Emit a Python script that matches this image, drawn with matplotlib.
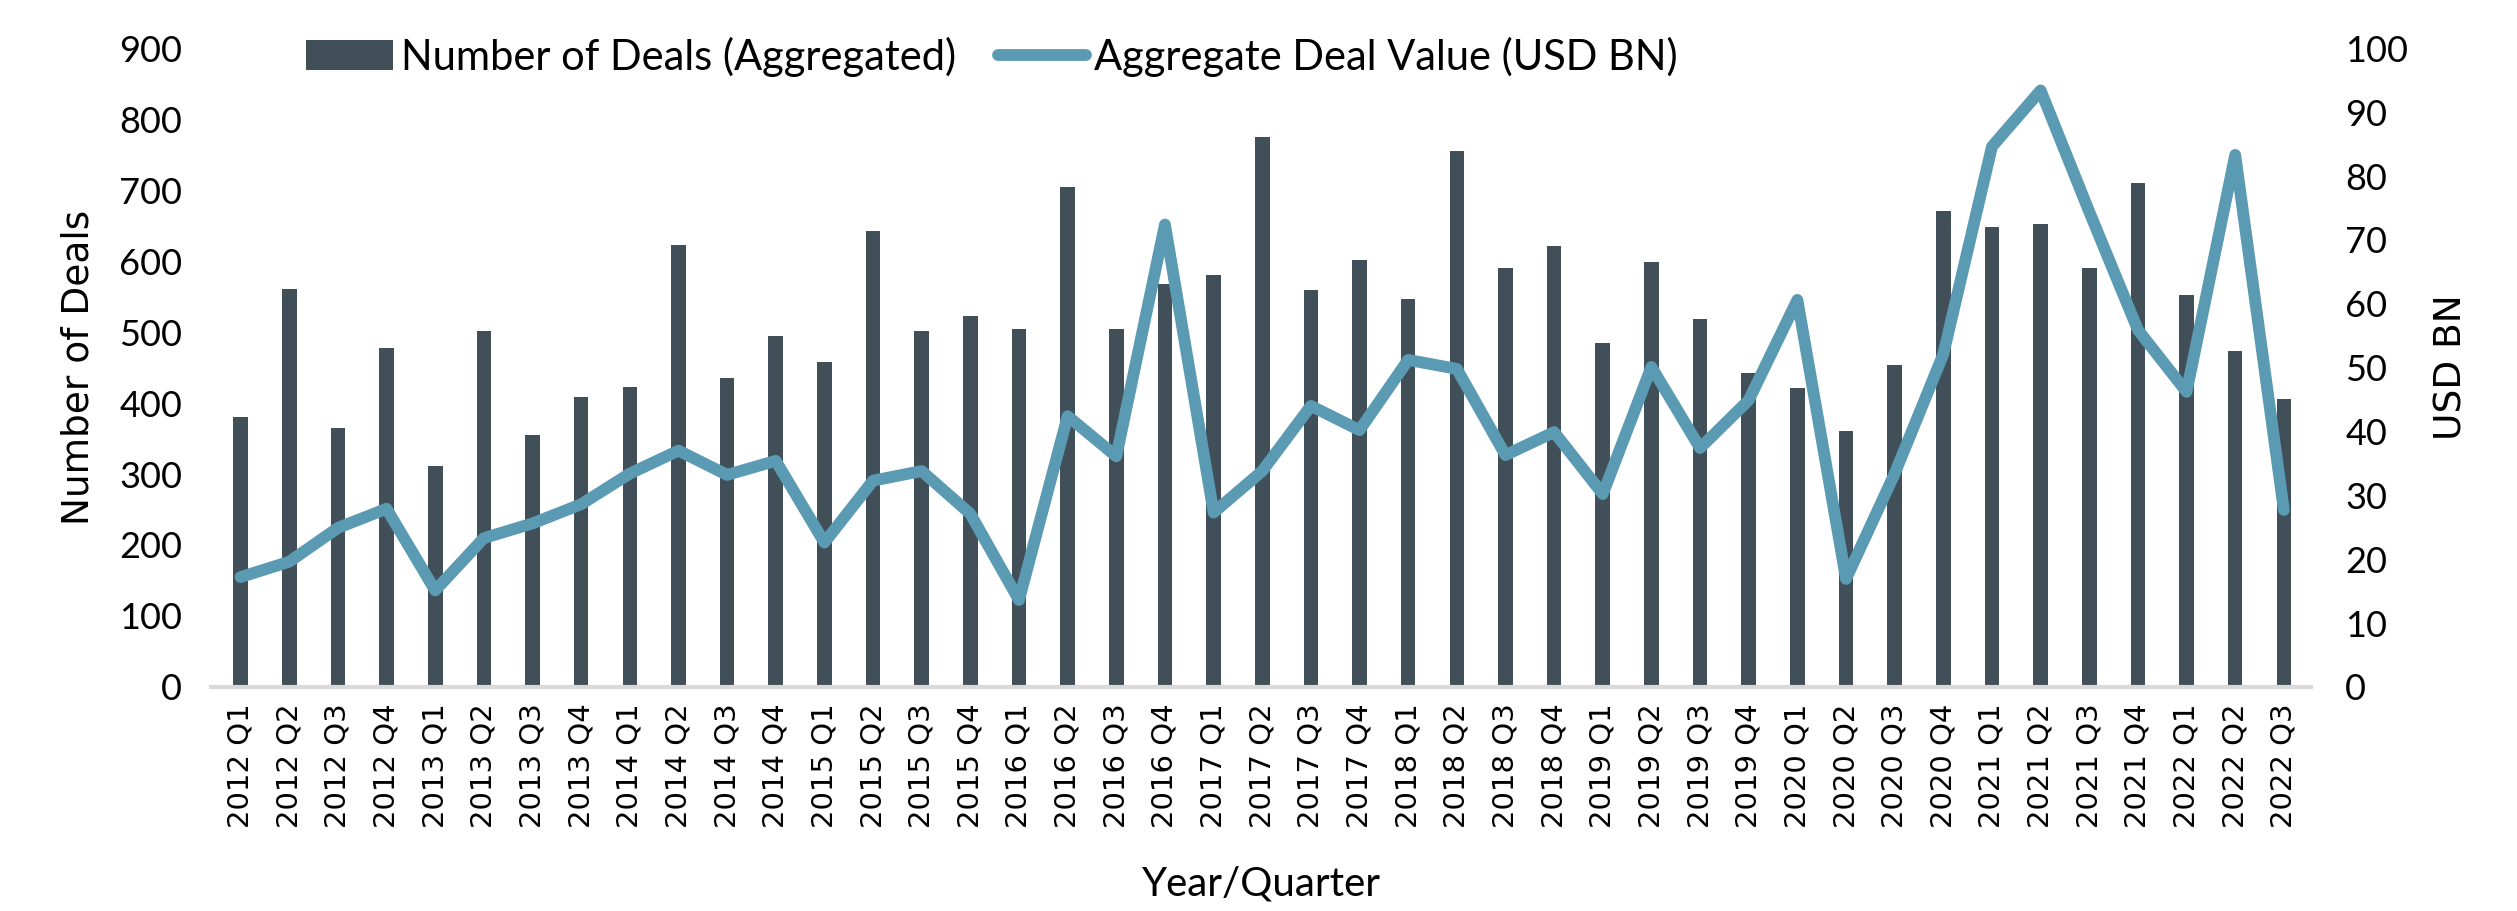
import matplotlib.pyplot as plt
import numpy as np

quarters = ['2012 Q1', '2012 Q2', '2012 Q3', '2012 Q4',
            '2013 Q1', '2013 Q2', '2013 Q3', '2013 Q4',
            '2014 Q1', '2014 Q2', '2014 Q3', '2014 Q4',
            '2015 Q1', '2015 Q2', '2015 Q3', '2015 Q4',
            '2016 Q1', '2016 Q2', '2016 Q3', '2016 Q4',
            '2017 Q1', '2017 Q2', '2017 Q3', '2017 Q4',
            '2018 Q1', '2018 Q2', '2018 Q3', '2018 Q4',
            '2019 Q1', '2019 Q2', '2019 Q3', '2019 Q4',
            '2020 Q1', '2020 Q2', '2020 Q3', '2020 Q4',
            '2021 Q1', '2021 Q2', '2021 Q3', '2021 Q4',
            '2022 Q1', '2022 Q2', '2022 Q3']

deals = [380, 561, 365, 478, 312, 502, 355, 409, 423, 623, 436, 495,
         458, 642, 502, 522, 505, 704, 505, 568, 580, 775, 560, 602,
         547, 755, 591, 622, 484, 599, 519, 443, 421, 361, 453, 671,
         648, 653, 591, 710, 552, 474, 406]

value_bn = [17.2, 19.6, 24.9, 27.9, 15.1, 23.3, 25.6, 28.6, 33.4, 37.0, 33.2, 35.4,
            22.6, 32.3, 33.8, 27.1, 13.6, 42.4, 36.1, 72.4, 27.3, 33.8, 44.0, 40.2,
            51.2, 49.8, 36.3, 39.9, 30.2, 50.1, 37.4, 44.9, 60.6, 16.9, 33.4, 52.1,
            84.6, 93.4, 74.4, 55.9, 46.2, 83.3, 27.7]

bar_color = '#414f59'
line_color = '#5a9ab3'
light_font = 'Lato'

fig = plt.figure(figsize=(25.17, 9.11), dpi=100)
ax = fig.add_axes([0.084, 0.246, 0.834, 0.701])
ax2 = ax.twinx()

x = np.arange(len(quarters))
bars = ax.bar(x, deals, width=0.3, color=bar_color, label='Number of Deals (Aggregated)', zorder=2)
line, = ax2.plot(x, value_bn, color=line_color, linewidth=8.5, solid_joinstyle='round',
                 solid_capstyle='round', label='Aggregate Deal Value (USD BN)', zorder=3)

ax.set_xlim(-0.6, 42.55)
ax.set_ylim(0, 900)
ax.set_yticks(range(0, 901, 100))
ax2.set_ylim(0, 100)
ax2.set_yticks(range(0, 101, 10))

ax.set_xticks(x)
ax.set_xticklabels(quarters, rotation=90, fontsize=21, family='DejaVu Sans')
for lab in ax.get_yticklabels() + ax2.get_yticklabels():
    lab.set_fontsize(26)
    lab.set_family(light_font)

for a in (ax, ax2):
    for s in ('top', 'left', 'right'):
        a.spines[s].set_visible(False)
    a.tick_params(length=0)
ax.spines['bottom'].set_color('#d9d9d9')
ax.spines['bottom'].set_linewidth(3)
ax2.spines['bottom'].set_visible(False)
ax.tick_params(axis='y', pad=21)
ax2.tick_params(axis='y', pad=25)
ax.tick_params(axis='x', pad=12)

ax.set_ylabel('Number of Deals', fontsize=27, labelpad=16)
ax2.set_ylabel('USD BN', fontsize=27, labelpad=18)
ax.set_xlabel('Year/Quarter', fontsize=29, family=light_font, labelpad=27)

ax.set_zorder(ax2.get_zorder() - 1)
ax.patch.set_visible(False)

fig.legend(handles=[bars, line], loc='center', bbox_to_anchor=(0.394, 0.938), ncol=2,
           frameon=False, prop={'family': light_font, 'size': 30},
           handlelength=2.1, columnspacing=1.0, handletextpad=0.2)

plt.savefig('out.png')
